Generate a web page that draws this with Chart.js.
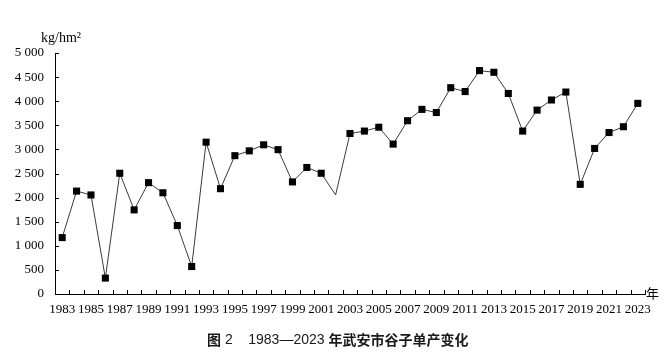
<!DOCTYPE html>
<html>
<head>
<meta charset="utf-8">
<script src="https://cdn.jsdelivr.net/npm/chart.js@4"></script>
<style>
  html, body { margin: 0; padding: 0; background: #fff; }
  #wrap { width: 668px; height: 354px; }
</style>
</head>
<body>
<div id="wrap"><canvas id="yieldChart" width="668" height="354"></canvas></div>
<script>
// ============================================
// Data
// ============================================
const years = [
  '1983','1984','1985','1986','1987','1988','1989','1990','1991','1992',
  '1993','1994','1995','1996','1997','1998','1999','2000','2001','2002',
  '2003','2004','2005','2006','2007','2008','2009','2010','2011','2012',
  '2013','2014','2015','2016','2017','2018','2019','2020','2021','2022','2023'
];
const yieldKgPerHm2 = [
  1170, 2135, 2055, 330, 2505, 1745, 2310, 2100, 1420, 570,
  3150, 2185, 2870, 2970, 3095, 2995, 2325, 2625, 2505, 2055,
  3330, 3380, 3460, 3110, 3595, 3830, 3765, 4280, 4200, 4635,
  4600, 4160, 3380, 3815, 4025, 4190, 2275, 3020, 3350, 3470, 3955
];
// the 2002 vertex has no marker in the figure
const hiddenMarkers = ['2002'];
const yTicks = [0, 500, 1000, 1500, 2000, 2500, 3000, 3500, 4000, 4500, 5000];
const unitLabel = 'kg/hm²';
const xUnitLabel = '年';
// caption pieces: [text, bold CJK?]
const captionParts = [
  ['图', true], [' 2', false], ['    ', false], ['1983—2023', false], [' ', false],
  ['年武安市谷子单产变化', true]
];

// ============================================
// Helpers
// ============================================
function formatThousands(v) {
  const s = String(v);
  return s.length > 3 ? s.slice(0, -3) + ' ' + s.slice(-3) : s;
}

// short inward tick marks, unit labels and the figure caption
const axisDecor = {
  id: 'axisDecor',
  afterDraw(chart) {
    const { ctx, chartArea, scales } = chart;
    const x = scales.x, y = scales.y;
    ctx.save();
    ctx.strokeStyle = '#000';
    ctx.lineWidth = 1;
    ctx.beginPath();
    for (let i = 0; i <= years.length; i++) {
      const px = Math.round(x.getPixelForValue(i - 0.5)) + 0.5;
      ctx.moveTo(px, chartArea.bottom);
      ctx.lineTo(px, chartArea.bottom - 4);
    }
    yTicks.forEach(v => {
      const py = Math.round(y.getPixelForValue(v)) + 0.5;
      ctx.moveTo(chartArea.left, py);
      ctx.lineTo(chartArea.left + 4, py);
    });
    ctx.stroke();

    ctx.fillStyle = '#000';
    ctx.font = '14px "Liberation Serif", "Times New Roman", serif';
    ctx.textAlign = 'center';
    ctx.textBaseline = 'middle';
    ctx.fillText(unitLabel, chartArea.left + 6, chartArea.top - 15);
    ctx.font = '13px "Noto Sans CJK SC", sans-serif';
    ctx.textAlign = 'left';
    ctx.fillText(xUnitLabel, chartArea.right + 1, chartArea.bottom - 1);

    // caption
    ctx.fillStyle = '#1a1a1a';
    ctx.textBaseline = 'middle';
    let cx = 207;
    captionParts.forEach(([txt, bold]) => {
      ctx.font = bold
        ? 'bold 14px "Noto Sans CJK SC", sans-serif'
        : '14px "Liberation Sans", Arial, sans-serif';
      ctx.fillText(txt, cx, 340);
      cx += ctx.measureText(txt).width;
    });
    ctx.restore();
  }
};

// ============================================
// Chart
// ============================================
const serif = { family: '"Liberation Serif", "Times New Roman", serif', size: 13 };

new Chart(document.getElementById('yieldChart'), {
  type: 'line',
  data: {
    labels: years,
    datasets: [{
      data: yieldKgPerHm2,
      borderColor: '#3a3a3a',
      borderWidth: 1,
      backgroundColor: '#000',
      pointStyle: 'rect',
      pointRadius: years.map(yr => hiddenMarkers.includes(yr) ? 0 : 5),
      pointBorderWidth: 0,
      pointBackgroundColor: '#000',
      tension: 0,
      fill: false
    }]
  },
  options: {
    responsive: false,
    animation: false,
    devicePixelRatio: 1,
    layout: { padding: { top: 53, right: 23, left: 0, bottom: 38 } },
    plugins: {
      legend: { display: false },
      tooltip: { enabled: false },
      title: { display: false }
    },
    scales: {
      x: {
        type: 'category',
        offset: true,
        grid: { display: false, drawTicks: false },
        border: { display: true, color: '#000', width: 1 },
        ticks: {
          autoSkip: false,
          maxRotation: 0,
          padding: 8,
          color: '#000',
          font: serif,
          callback: (val, i) => (i % 2 === 0 ? years[i] : '')
        },
        afterFit: s => { s.height = 22; }
      },
      y: {
        min: 0,
        max: 5000,
        grid: { display: false, drawTicks: false },
        border: { display: true, color: '#000', width: 1 },
        afterBuildTicks: s => { s.ticks = yTicks.map(v => ({ value: v })); },
        ticks: {
          padding: 11,
          color: '#000',
          font: serif,
          callback: v => formatThousands(v)
        },
        afterFit: s => { s.width = 55; }
      }
    }
  },
  plugins: [axisDecor]
});
</script>
</body>
</html>
